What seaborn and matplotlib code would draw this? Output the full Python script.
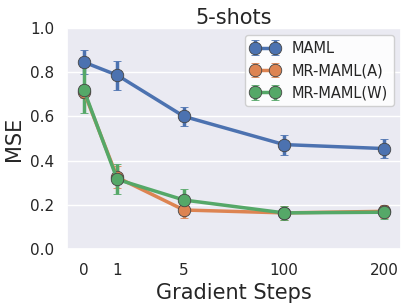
import matplotlib
matplotlib.use('Agg')
import matplotlib.pyplot as plt
import seaborn as sns
import numpy as np

# gradient step labels, plotted at uneven positions like the original
step_labels = ['0', '1', '5', '100', '200']
step_pos = [0, 1, 3, 6, 9]

maml_mean = [0.845, 0.786, 0.600, 0.473, 0.455]
maml_err = [0.055, 0.065, 0.043, 0.045, 0.042]

mr_a_mean = [0.712, 0.325, 0.178, 0.165, 0.172]
mr_a_err = [0.030, 0.050, 0.035, 0.030, 0.030]

mr_w_mean = [0.720, 0.316, 0.223, 0.165, 0.168]
mr_w_err = [0.105, 0.068, 0.048, 0.030, 0.030]

sns.set_theme(style='darkgrid', palette='deep')
colors = sns.color_palette('deep')

fig = plt.figure(figsize=(4.07, 3.08), dpi=100)
ax = fig.add_axes([0.165, 0.19, 0.82, 0.72])

series = [('MAML', maml_mean, maml_err),
          ('MR-MAML(A)', mr_a_mean, mr_a_err),
          ('MR-MAML(W)', mr_w_mean, mr_w_err)]
for i, (name, mean, err) in enumerate(series):
    ax.errorbar(step_pos, mean, yerr=err, label=name, color=colors[i],
                marker='o', markersize=9, markeredgecolor='#444444',
                markeredgewidth=0.6, linewidth=2.5, elinewidth=2.5,
                capsize=3, capthick=1.2)

ax.set_xticks(step_pos)
ax.set_xticklabels(step_labels)
ax.set_xlim(-0.5, 9.5)
ax.set_ylim(0, 1.0)
ax.xaxis.grid(False)
ax.tick_params(labelsize=11)
ax.set_title('5-shots', fontsize=15, pad=3)
ax.set_xlabel('Gradient Steps', fontsize=15)
ax.set_ylabel('MSE', fontsize=15)
ax.legend(loc='upper right', fontsize=10.5, numpoints=2,
          facecolor='white', framealpha=0.9)

fig.savefig('out.png', dpi=100)
